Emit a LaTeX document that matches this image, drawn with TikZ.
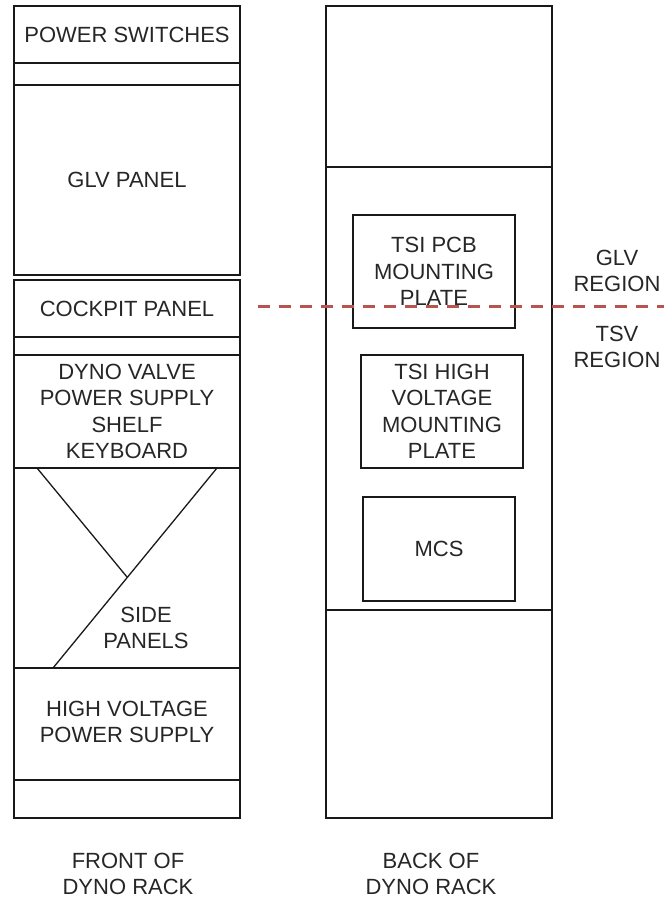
\documentclass[tikz,border=0pt]{standalone}
\usepackage{fontspec}
\setmainfont{Liberation Sans}
\definecolor{dashred}{RGB}{184,84,80}
\begin{document}
\begin{tikzpicture}[x=1pt,y=-1pt,
  every node/.style={font=\fontsize{22}{26.5}\selectfont, text=black!85, align=center, inner sep=0pt},
  box/.style={draw=black!90, line width=1.6pt, minimum width=226pt},
  plate/.style={draw=black!90, line width=1.6pt},
  txt/.style={}]
\useasboundingbox (0,0) rectangle (664,899);
% front rack
\node[box, minimum height=57pt] (ps) at (127,34.5) {POWER SWITCHES};
\node[box, minimum height=22pt] (g1) at (127,74) {};
\node[box, minimum height=190pt] (glv) at (127,180) {GLV PANEL};
\node[box, minimum height=57pt] (ck) at (127,308.5) {COCKPIT PANEL};
\node[box, minimum height=18pt] (g2) at (127,346) {};
\node[box, minimum height=113pt] (dy) at (127,411.5) {DYNO VALVE\\POWER SUPPLY\\SHELF\\KEYBOARD};
\node[box, minimum height=200pt] (sd) at (127,568) {};
\node[box, minimum height=112pt] (hv) at (127,724) {};
\node[box, minimum height=38pt] (g3) at (127,799) {};
\node (hvt) at (127,722) {HIGH VOLTAGE\\POWER SUPPLY};
\node (sdt) at (146,628) {SIDE\\PANELS};
\coordinate (d1a) at (37,468);
\coordinate (d1b) at (127,577);
\coordinate (d2a) at (217,468);
\coordinate (d2b) at (53,668);
\draw[line width=1.3pt, black!90] (d1a) -- (d1b);
\draw[line width=1.3pt, black!90] (d2a) -- (d2b);
% back rack
\node[box, minimum height=161pt] (bt) at (439,86.5) {};
\node[box, minimum height=443pt] (bm) at (439,388.5) {};
\node[box, minimum height=208pt] (bb) at (439,714) {};
\node[plate, minimum width=162pt, minimum height=113pt] (pcb) at (434,271.5) {TSI PCB\\MOUNTING\\PLATE};
\node[plate, minimum width=162pt, minimum height=113pt] (tsihv) at (442,411.5) {TSI HIGH\\VOLTAGE\\MOUNTING\\PLATE};
\node[plate, minimum width=152pt, minimum height=104pt] (mcs) at (439,549) {MCS};
% region boundary
\coordinate (da) at (258,306);
\coordinate (db) at (664,306);
\draw[dashred, line width=3pt, dash pattern=on 12pt off 9pt] (da) -- (db);
\node (glvr) at (617,271) {GLV\\REGION};
\node (tsvr) at (617,347) {TSV\\REGION};
% labels
\node (front) at (128,874) {FRONT OF\\DYNO RACK};
\node (back) at (431,874) {BACK OF\\DYNO RACK};
\end{tikzpicture}
\end{document}
